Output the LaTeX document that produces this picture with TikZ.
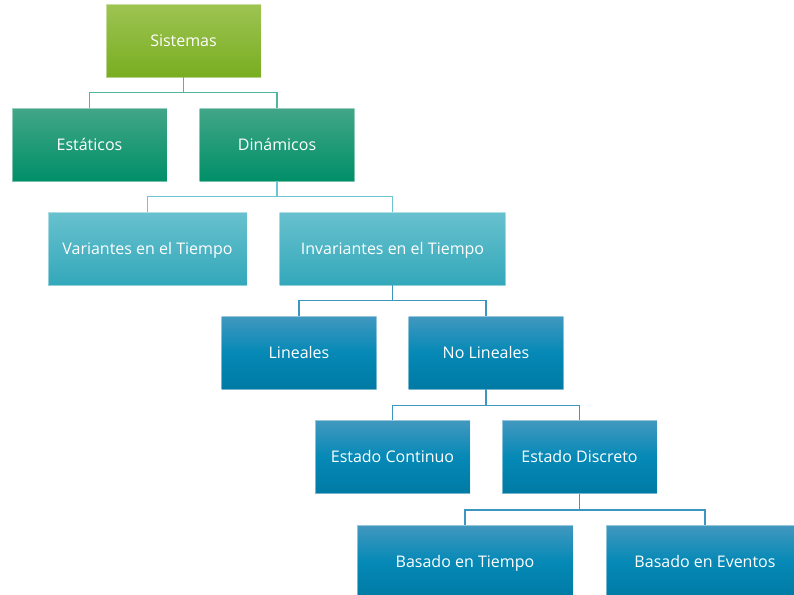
\documentclass[tikz,border=0pt]{standalone}
\usepackage{fontspec}
\setmainfont{Open Sans}
\definecolor{gA}{HTML}{9DC452}
\definecolor{gB}{HTML}{79AD21}
\definecolor{tA}{HTML}{42A687}
\definecolor{tB}{HTML}{008F68}
\definecolor{cA}{HTML}{68C1CE}
\definecolor{cB}{HTML}{33A8BA}
\definecolor{bA}{HTML}{4298BF}
\definecolor{bM}{HTML}{0589B6}
\definecolor{bB}{HTML}{007AA4}
\definecolor{lT}{HTML}{52B59E}
\definecolor{lC}{HTML}{6EC4D1}
\definecolor{lB}{HTML}{3D96BF}
\tikzset{
  box/.style={rectangle, minimum height=54.75pt, inner sep=0pt, text=white,
    font=\fontsize{12}{14}\selectfont, text height=0.95em, text depth=0.11em,
    draw=white, draw opacity=0.45, line width=0.5pt},
  green/.style={box, top color=gA, bottom color=gB},
  teal/.style={box, top color=tA, bottom color=tB},
  cyan/.style={box, top color=cA, bottom color=cB},
  blue/.style={box, top color=bA, bottom color=bB, middle color=bM},
  lk/.style={line width=1.1pt},
}
\begin{document}
\begin{tikzpicture}[x=0.75pt, y=-0.75pt]
\useasboundingbox (0,0) rectangle (794,594);
\clip (0,0) rectangle (794,594);
\fill[white] (0,0) rectangle (794,594);

% boxes, placed by their centres
\node[green, minimum width=116.25pt] (sis) at (183.5,40.5) {Sistemas};
\node[teal,  minimum width=116.25pt] (est) at (89.5,144.5) {Estáticos};
\node[teal,  minimum width=116.25pt] (din) at (277,144.5) {Dinámicos};
\node[cyan,  minimum width=149.25pt] (var) at (147.5,248.5) {Variantes en el Tiempo};
\node[cyan,  minimum width=169.5pt]  (inv) at (392.5,248.5) {Invariantes en el Tiempo};
\node[blue,  minimum width=116.25pt] (lin) at (299,352.5) {Lineales};
\node[blue,  minimum width=116.25pt] (nol) at (486,352.5) {No Lineales};
\node[blue,  minimum width=116.25pt] (eco) at (392.5,457) {Estado Continuo};
\node[blue,  minimum width=116.25pt] (edi) at (579.5,457) {Estado Discreto};
\node[blue,  minimum width=162pt]    (bti) at (465,561.5) {Basado en Tiempo};
\node[blue,  minimum width=148.5pt]  (bev) at (705,561.5) {Basado en Eventos};

% elbow connectors from each parent to its children
\draw[lk, lT] (sis.south) -- ++(0,15) -| (est.north);
\draw[lk, lT] (sis.south) -- ++(0,15) -| (din.north);
\draw[lk, lC] (din.south) -- ++(0,15) -| (var.north);
\draw[lk, lC] (din.south) -- ++(0,15) -| (inv.north);
\draw[lk, lB] (inv.south) -- ++(0,15) -| (lin.north);
\draw[lk, lB] (inv.south) -- ++(0,15) -| (nol.north);
\draw[lk, lB] (nol.south) -- ++(0,16) -| (eco.north);
\draw[lk, lB] (nol.south) -- ++(0,16) -| (edi.north);
\draw[lk, lB] (edi.south) -- ++(0,16) -| (bti.north);
\draw[lk, lB] (edi.south) -- ++(0,16) -| (bev.north);
\end{tikzpicture}
\end{document}
